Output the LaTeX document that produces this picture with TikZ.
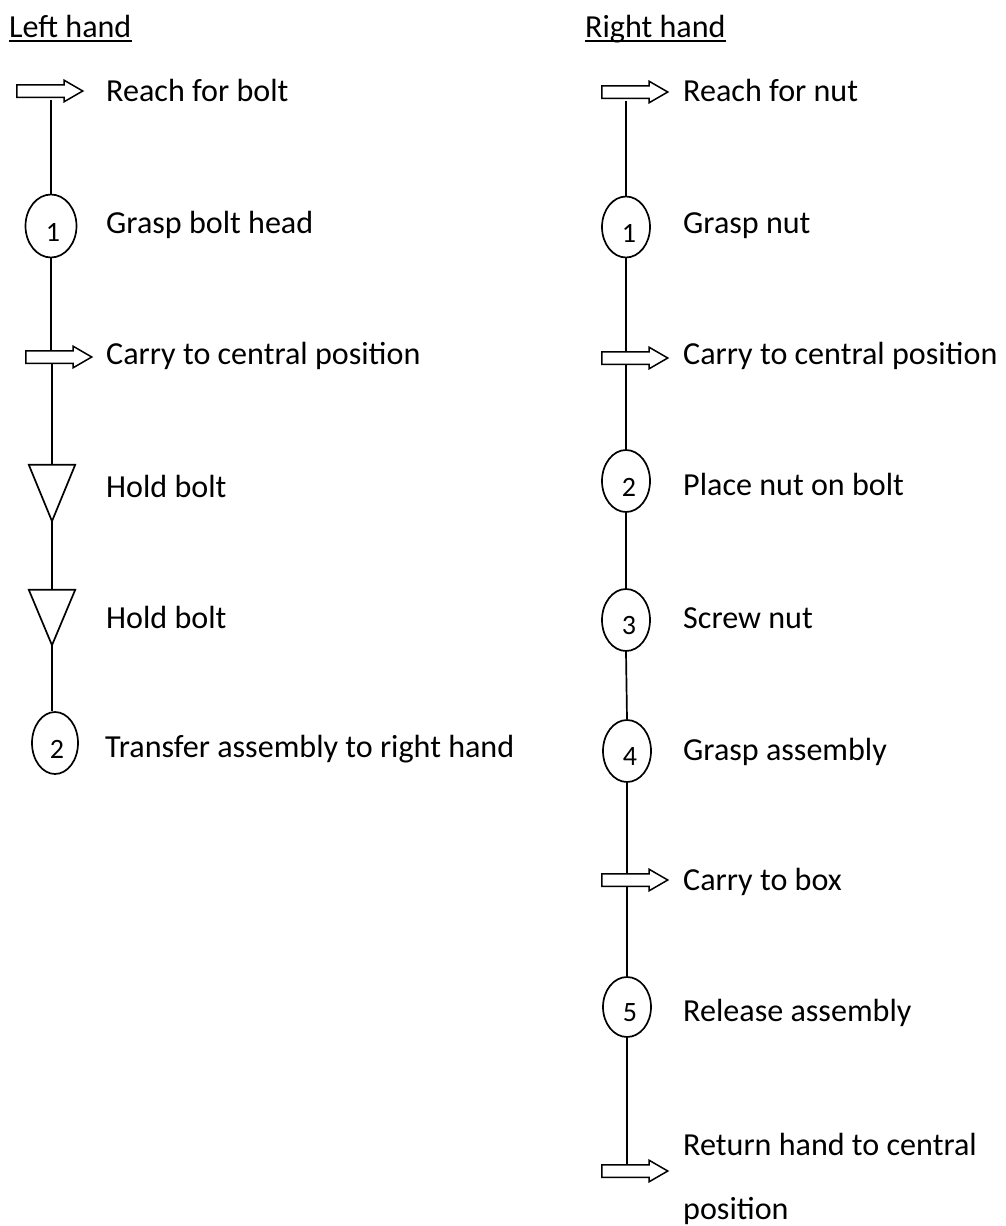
\documentclass[tikz,border=0pt]{standalone}
\usepackage{fontspec}
\setmainfont{Carlito}
\usetikzlibrary{shapes.geometric,shapes.arrows,calc}
\pgfdeclarelayer{background}
\pgfsetlayers{background,main}
\tikzset{
  lbl/.style={anchor=base west, inner sep=0pt, font=\fontsize{32.1}{38}\selectfont},
  opn/.style={draw, ellipse, line width=1.7pt, minimum width=48pt, minimum height=61pt, inner sep=0pt},
  dig/.style={font=\fontsize{28}{32}\selectfont, inner sep=0pt},
  mv/.style={single arrow, draw, fill=white, line width=1.5pt, single arrow head extend=4.5pt,
             single arrow tip angle=60, single arrow head indent=0pt, anchor=tail,
             minimum height=66pt, minimum width=0pt, inner xsep=0pt, inner ysep=5.5pt},
  holdbox/.style={inner sep=0pt, minimum width=46pt, minimum height=56pt},
  holdtri/.style={line width=1.7pt, line join=miter},
  link/.style={line width=1.7pt},
  uline/.style={line width=2.4pt}
}
\begin{document}
\begin{tikzpicture}[x=1pt,y=-1pt]
\useasboundingbox (0,0) rectangle (1006,1226);
% titles
\node[lbl] (LH) at (9,37) {Left hand};
\node[lbl] (RH) at (585,37) {Right hand};
\draw[uline] ([yshift=-4pt]LH.base west) -- ([yshift=-4pt]LH.base east);
\draw[uline] ([yshift=-4pt]RH.base west) -- ([yshift=-4pt]RH.base east);

% left hand
\node[mv] (LA1) at (16,91) {};
\node[opn, minimum width=51pt, minimum height=63pt, label={[dig,xshift=2pt,yshift=-6pt]center:1}] (L1) at (51,226) {};
\node[mv] (LA2) at (25,357) {};
\node[holdbox] (LT1) at (52,493) {};
\node[holdbox, minimum height=55pt] (LT2) at (52,617.5) {};
\node[opn, minimum width=46pt, minimum height=62pt, label={[dig,xshift=2pt,yshift=-6pt]center:2}] (L2) at (55,743) {};

\begin{pgfonlayer}{background}
\draw[link] ([yshift=-2pt]L1.north |- LA1.south) -- (L1.north);
\draw[link] (L1.south) -- (L1.south |- LA2.north);
\draw[link] (LT1.north |- LA2.south) -- (LT1.north);
\draw[link] (LT1.south) -- (LT2.north);
\draw[link] (LT2.south) -- (LT2.south |- L2.north);
\end{pgfonlayer}
\draw[holdtri] (LT1.north west) -- (LT1.north east) -- (LT1.south) -- cycle;
\draw[holdtri] (LT2.north west) -- (LT2.north east) -- (LT2.south) -- cycle;

\node[lbl] (t1) at (106,101) {Reach for bolt};
\node[lbl] (t2) at (106,233) {Grasp bolt head};
\node[lbl] (t3) at (106,364) {Carry to central position};
\node[lbl] (t4) at (106,497) {Hold bolt};
\node[lbl] (t5) at (106,628) {Hold bolt};
\node[lbl] (t6) at (105,757) {Transfer assembly to right hand};

% right hand
\node[mv] (RA1) at (601,92) {};
\node[opn, label={[dig,xshift=3pt,yshift=-6pt]center:1}] (R1) at (626,227) {};
\node[mv] (RA2) at (601,358) {};
\node[opn, minimum height=62pt, label={[dig,xshift=3pt,yshift=-6pt]center:2}] (R2) at (626,481) {};
\node[opn, minimum height=62pt, label={[dig,xshift=3pt,yshift=-6pt]center:3}] (R3) at (626,620) {};
\node[opn, minimum height=62pt, label={[dig,xshift=3pt,yshift=-6pt]center:4}] (R4) at (627,751) {};
\node[mv] (RA3) at (601,880) {};
\node[opn, minimum height=60pt, label={[dig,xshift=3pt,yshift=-6pt]center:5}] (R5) at (627,1007) {};
\node[mv] (RA4) at (601,1171) {};

\begin{pgfonlayer}{background}
\draw[link] ([yshift=-2pt]R1.north |- RA1.south) -- (R1.north);
\draw[link] (R1.south) -- (R1.south |- RA2.north);
\draw[link] (R2.north |- RA2.south) -- (R2.north);
\draw[link] (R2.south) -- (R3.north);
\draw[link] (R3.south) -- (R4.north);
\draw[link] (R4.south) -- (R4.south |- RA3.north);
\draw[link] (R5.north |- RA3.south) -- (R5.north);
\draw[link] (R5.south) -- (R5.south |- RA4.north);
\end{pgfonlayer}

\node[lbl] (u1) at (683,101) {Reach for nut};
\node[lbl] (u2) at (683,233) {Grasp nut};
\node[lbl] (u3) at (683,364) {Carry to central position};
\node[lbl] (u4) at (683,495) {Place nut on bolt};
\node[lbl] (u5) at (683,628) {Screw nut};
\node[lbl] (u6) at (683,760) {Grasp assembly};
\node[lbl] (u7) at (683,890) {Carry to box};
\node[lbl] (u8) at (683,1021) {Release assembly};
\node[lbl, font=\fontsize{32.1}{64}\selectfont, align=left] (u9) at (683,1219) {Return hand to central\\position};
\end{tikzpicture}
\end{document}
